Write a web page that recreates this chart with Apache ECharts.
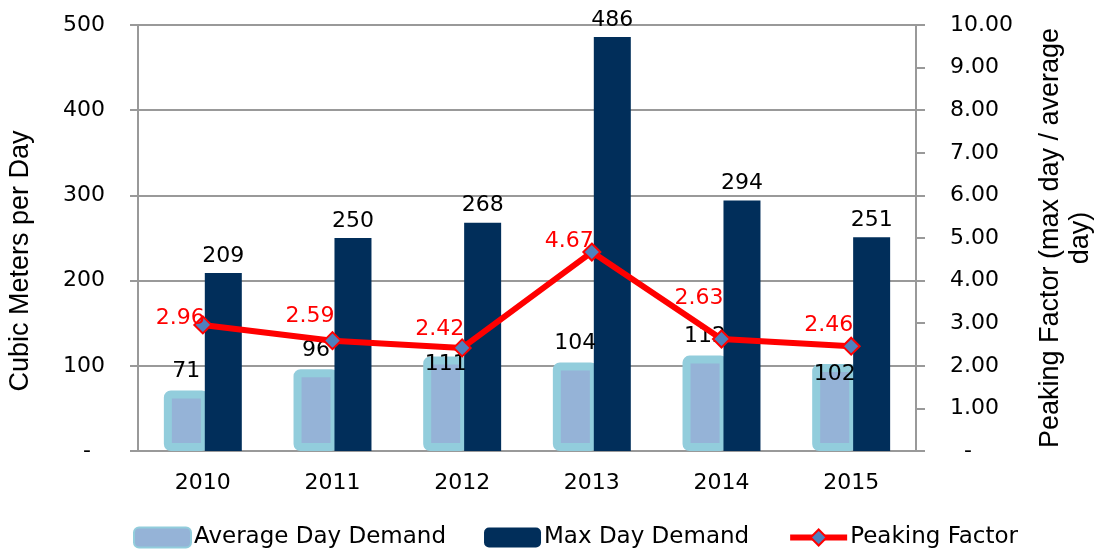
<!DOCTYPE html>
<html>
<head>
<meta charset="utf-8">
<script src="https://cdn.jsdelivr.net/npm/echarts@6/dist/echarts.min.js"></script>
<style>
    html, body { margin: 0; padding: 0; background: #fff; }
    #chart { width: 1095px; height: 550px; }
</style>
</head>
<body>
<div id="chart"></div>
<script>
    var years = ['2010', '2011', '2012', '2013', '2014', '2015']
    var avgDemand = [71, 96, 111, 104, 112, 102]
    var maxDemand = [209, 250, 268, 486, 294, 251]
    var peakingFactor = [2.96, 2.59, 2.42, 4.67, 2.63, 2.46]

    var labelFont = 'DejaVu Sans'
    var titleFont = 'Liberation Sans'

    // label nudges so the data labels sit where the original put them (avoid overlaps)
    var lineLabelLift = [9, 26, 21, 13, 43, 23]
    var avgLabelDrop = { 2: 27, 5: 29 }

    var avgData = avgDemand.map(function (v, i) {
        if (avgLabelDrop[i] === undefined) return v
        return { value: v, label: { offset: [0, avgLabelDrop[i]] } }
    })
    var peakData = peakingFactor.map(function (v, i) {
        return { value: v, label: { offset: [2, 13 - lineLabelLift[i]] } }
    })

    var chart = echarts.init(document.getElementById('chart'))
    chart.setOption({
        animation: false,
        textStyle: { fontFamily: labelFont },
        grid: { left: 138, right: 179, top: 25, bottom: 99, outerBoundsMode: 'none', containLabel: false },
        legend: {
            left: 128,
            top: 521,
            itemWidth: 57,
            itemHeight: 20,
            itemGap: 38,
            textStyle: { fontSize: 23, color: '#000', fontFamily: labelFont, padding: [0, 0, 0, -2] },
            data: [
                { name: 'Average Day Demand' },
                { name: 'Max Day Demand' },
                { name: 'Peaking Factor', lineStyle: { width: 6 } }
            ]
        },
        xAxis: {
            type: 'category',
            data: years,
            axisLine: { lineStyle: { color: '#999', width: 2 } },
            axisTick: { length: 7, lineStyle: { color: '#999', width: 2 } },
            axisLabel: { fontSize: 22, color: '#000', margin: 21 }
        },
        yAxis: [
            {
                type: 'value',
                min: 0,
                max: 500,
                interval: 100,
                name: 'Cubic Meters per Day',
                nameLocation: 'middle',
                nameGap: 104,
                nameTextStyle: { fontSize: 27, color: '#000', fontFamily: titleFont, padding: [0, 46, 0, 0] },
                axisLine: { show: true, lineStyle: { color: '#999', width: 2 } },
                axisTick: { show: true, length: 8, lineStyle: { color: '#999', width: 2 } },
                splitLine: { lineStyle: { color: '#999', width: 2 } },
                axisLabel: {
                    fontSize: 22,
                    color: '#000',
                    margin: 33,
                    formatter: function (v) { return v === 0 ? '-  ' : v }
                }
            },
            {
                type: 'value',
                min: 0,
                max: 10,
                interval: 1,
                position: 'right',
                name: 'Peaking Factor (max day / average\nday)',
                nameLocation: 'middle',
                nameGap: 120,
                nameRotate: 90,
                nameTextStyle: { fontSize: 27, color: '#000', fontFamily: titleFont, lineHeight: 30, align: 'center' },
                axisLine: { show: true, lineStyle: { color: '#999', width: 2 } },
                axisTick: { show: true, length: 9, lineStyle: { color: '#999', width: 2 } },
                splitLine: { show: false },
                axisLabel: {
                    fontSize: 22,
                    color: '#000',
                    margin: 34,
                    formatter: function (v) { return v === 0 ? '  -' : v.toFixed(2) }
                }
            }
        ],
        series: [
            {
                name: 'Average Day Demand',
                type: 'bar',
                data: avgData,
                barWidth: 45,
                barGap: '-9%',
                itemStyle: { color: '#95B3D7', borderColor: '#92CDDC', borderWidth: 8, borderRadius: 3 },
                label: { show: true, position: 'top', distance: 8, fontSize: 22, color: '#000' }
            },
            {
                name: 'Max Day Demand',
                type: 'bar',
                data: maxDemand,
                barWidth: 37,
                itemStyle: { color: '#012E5A' },
                label: { show: true, position: 'top', distance: 6, fontSize: 22, color: '#000' }
            },
            {
                name: 'Peaking Factor',
                type: 'line',
                yAxisIndex: 1,
                data: peakData,
                symbol: 'diamond',
                symbolSize: 17,
                lineStyle: { color: '#FF0000', width: 6 },
                itemStyle: { color: '#4F81BD', borderColor: '#FF0000', borderWidth: 2 },
                label: {
                    show: true,
                    position: 'inside',
                    align: 'right',
                    verticalAlign: 'bottom',
                    fontSize: 22,
                    color: '#FF0000',
                    formatter: function (p) { return p.value.toFixed(2) }
                },
                z: 5
            }
        ]
    })
</script>
</body>
</html>
